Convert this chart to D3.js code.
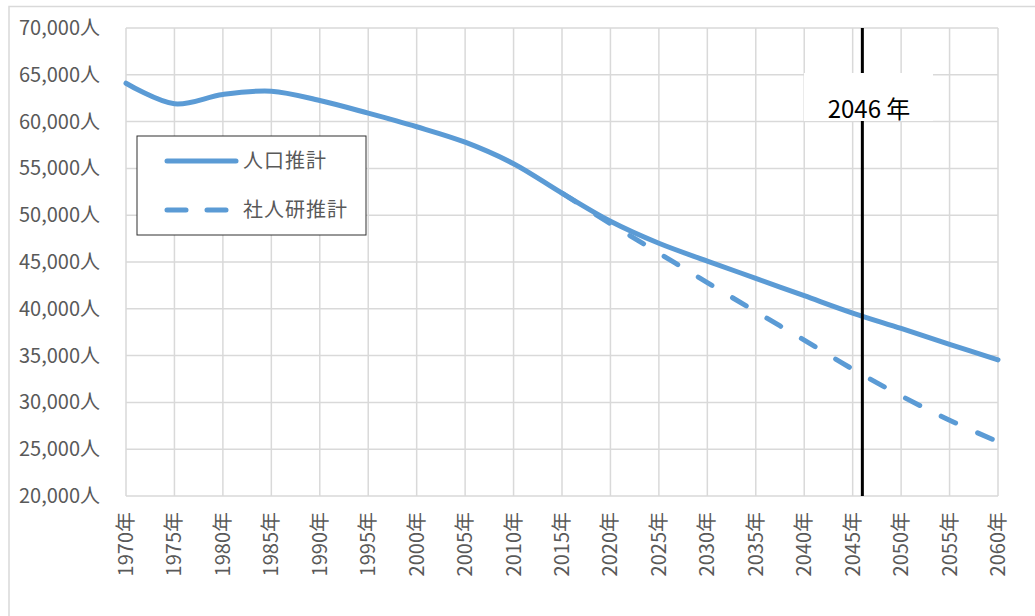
<!DOCTYPE html>
<html><head><meta charset="utf-8">
<script src="https://cdn.jsdelivr.net/npm/d3@7"></script>
<style>
html,body{margin:0;padding:0;background:#fff;}
svg{display:block;font-family:"Noto Sans CJK JP","Noto Sans",sans-serif;}
</style></head>
<body>
<svg id="chart" width="1035" height="616"></svg>
<script>
// ---- data ----
const years = [1970,1975,1980,1985,1990,1995,2000,2005,2010,2015,2020,2025,2030,2035,2040,2045,2050,2055,2060];
const popEstimate = [64100,61900,62900,63250,62250,60900,59450,57800,55500,52350,49350,47000,45100,43250,41400,39550,37900,36200,34550];
const ipssYears = [2015,2020,2025,2030,2035,2040,2045,2050,2055,2060];
const ipssEstimate = [52350,49100,45950,42800,39700,36650,33550,30700,28100,25800];
const yTicks = [20000,25000,30000,35000,40000,45000,50000,55000,60000,65000,70000];
const seriesNames = ["人口推計","社人研推計"];
const markerYear = 2046;
const markerLabel = "2046 年";

// ---- layout ----
const svg = d3.select("#chart");
const pL = 126, pR = 998, pT = 28, pB = 496;
const x = d3.scaleLinear().domain([1970,2060]).range([pL,pR]);
const y = d3.scaleLinear().domain([20000,70000]).range([pB,pT]);
const blue = "#5B9BD5", grid = "#d9d9d9", textCol = "#595959";

// outer frame (extends beyond the window on right/bottom)
svg.append("rect").attr("x",9).attr("y",6.5).attr("width",1100).attr("height",700)
  .attr("fill","none").attr("stroke",grid).attr("stroke-width",1.5);

// gridlines
svg.append("g").selectAll("line").data(yTicks).join("line")
  .attr("x1",pL).attr("x2",pR).attr("y1",d=>y(d)).attr("y2",d=>y(d))
  .attr("stroke",grid).attr("stroke-width",1.5);
svg.append("g").selectAll("line").data(years).join("line")
  .attr("x1",d=>x(d)).attr("x2",d=>x(d)).attr("y1",pT).attr("y2",pB)
  .attr("stroke",grid).attr("stroke-width",1.5);

// y tick labels
const fmt = d3.format(",");
svg.append("g").selectAll("text").data(yTicks).join("text")
  .attr("x",100).attr("y",d=>y(d)).attr("dy","0.35em")
  .attr("text-anchor","end").attr("font-size",20).attr("fill",textCol)
  .text(d=>fmt(d)+"人");

// x tick labels
svg.append("g").selectAll("text").data(years).join("text")
  .attr("transform",d=>`translate(${x(d)},512) rotate(-90)`)
  .attr("dy","0.35em").attr("text-anchor","end").attr("font-size",20).attr("fill",textCol)
  .text(d=>d+"年");

// lines
const line = d3.line().curve(d3.curveCatmullRom.alpha(0.5)).x(d=>x(d[0])).y(d=>y(d[1]));
svg.append("path").datum(ipssYears.map((yr,i)=>[yr,ipssEstimate[i]]))
  .attr("d",line).attr("fill","none").attr("stroke",blue).attr("stroke-width",5)
  .attr("stroke-dasharray","16,24").attr("stroke-linecap","round");
svg.append("path").datum(years.map((yr,i)=>[yr,popEstimate[i]]))
  .attr("d",line).attr("fill","none").attr("stroke",blue).attr("stroke-width",5)
  .attr("stroke-linecap","round");

// marker line
svg.append("line").attr("x1",x(markerYear)).attr("x2",x(markerYear)).attr("y1",pT).attr("y2",pB)
  .attr("stroke","#000").attr("stroke-width",3);
svg.append("rect").attr("x",804).attr("y",73).attr("width",129).attr("height",48).attr("fill","#fff");
svg.append("text").attr("x",869).attr("y",118).attr("text-anchor","middle")
  .attr("font-size",24).attr("fill","#000").text(markerLabel);

// legend
const lg = svg.append("g");
lg.append("rect").attr("x",137).attr("y",136).attr("width",229).attr("height",99)
  .attr("fill","#fff").attr("stroke","#303030").attr("stroke-width",1);
lg.append("line").attr("x1",167).attr("x2",236).attr("y1",161).attr("y2",161)
  .attr("stroke",blue).attr("stroke-width",5).attr("stroke-linecap","round");
lg.append("line").attr("x1",167).attr("x2",229).attr("y1",210).attr("y2",210)
  .attr("stroke",blue).attr("stroke-width",5).attr("stroke-linecap","round").attr("stroke-dasharray","19,21");
lg.selectAll("text.lt").data(seriesNames).join("text").attr("class","lt")
  .attr("x",243).attr("y",(d,i)=>161+i*49).attr("dy","0.35em")
  .attr("font-size",20).attr("fill",textCol).attr("letter-spacing",1).text(d=>d);
</script>
</body></html>
